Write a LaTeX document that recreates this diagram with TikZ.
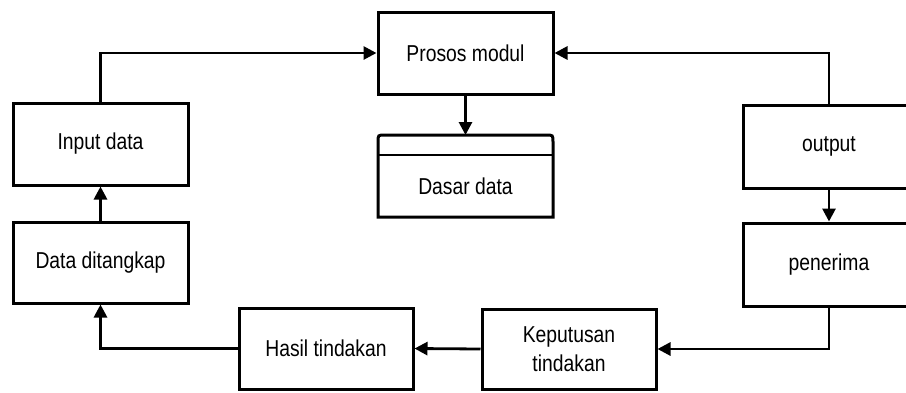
\documentclass[tikz,border=0pt]{standalone}
\usepackage{fontspec}
\setmainfont[FakeStretch=0.84]{Liberation Sans}
\usetikzlibrary{arrows.meta}
\begin{document}
\begin{tikzpicture}[x=1pt,y=-1pt,
  box/.style={draw=black, line width=3pt, inner sep=0pt, align=center,
    font=\fontsize{23}{29}\selectfont, text=black},
  arr/.style={line width=2.8pt, -{Triangle[length=13pt,width=13pt]}},
  line join=miter]
\useasboundingbox (0,0) rectangle (906,392);
\clip (0,0) rectangle (906,392);
\fill[white] (0,0) rectangle (906,392);
% nodes
\node[box, minimum width=175pt, minimum height=82pt] (pros) at (465.5,53) {Prosos modul};
\node[inner sep=0pt, minimum width=175pt, minimum height=62pt, font=\fontsize{23}{29}\selectfont] (dasar) at (465.5,186) {Dasar data};
\node[box, minimum width=175pt, minimum height=82pt] (inp) at (100.5,144) {Input data};
\node[box, minimum width=175pt, minimum height=81pt] (dat) at (100.5,262.5) {Data ditangkap};
\node[box, minimum width=174pt, minimum height=81pt] (has) at (326,348.5) {Hasil tindakan};
\node[box, minimum width=174pt, minimum height=80pt] (kep) at (569,349) {Keputusan\\tindakan};
\node[box, minimum width=172pt, minimum height=83pt] (out) at (829,146.5) {output};
\node[box, minimum width=172pt, minimum height=83pt] (pen) at (829,264.5) {penerima};
% data store outline
\coordinate (dtop) at (465.5,135);
\draw[line width=3pt] (378,217) -- (378,142) .. controls (378,135) .. (385,135)
  -- (546,135) .. controls (553,135) .. (553,142) -- (553,217) -- cycle;
\draw[line width=2.2pt] (dasar.north west) -- (dasar.north east);
% connectors
\draw[arr] (inp.north) |- (pros.west);
\draw[arr] (out.north) |- (pros.east);
\draw[arr] (pros.south) -- (dtop);
\draw[arr] (out.south) -- (pen.north);
\draw[arr] (pen.south) |- (kep.east);
\draw[arr] (kep.west) -- (has.east);
\draw[arr] (has.west) -| (dat.south);
\draw[arr] (dat.north) -- (inp.south);
\end{tikzpicture}
\end{document}
